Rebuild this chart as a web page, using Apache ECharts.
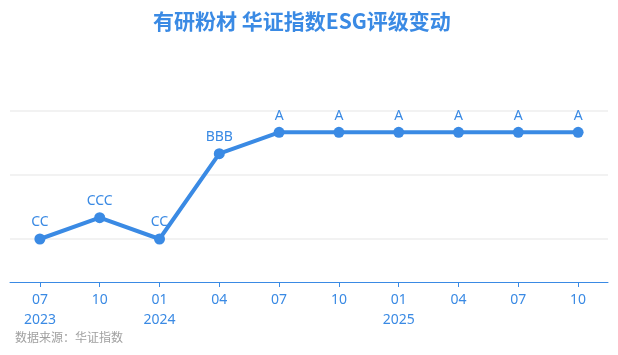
<!DOCTYPE html>
<html>
<head>
<meta charset="utf-8">
<script src="https://cdn.jsdelivr.net/npm/echarts@6/dist/echarts.min.js"></script>
<style>
html,body{margin:0;padding:0;background:#fff;}
#c{width:618px;height:355px;}
</style>
</head>
<body>
<div id="c"></div>
<script>
// Data
const categories = ['07\n2023', '10', '01\n2024', '04', '07', '10', '01\n2025', '04', '07', '10'];
const ratingsSeries = ['CC', 'CCC', 'CC', 'BBB', 'A', 'A', 'A', 'A', 'A', 'A'];
// rating scale (value = position in this list)
const ratingScale = ['', 'C', 'CC', 'CCC', 'B', 'BB', 'BBB', 'A', 'AA', 'AAA'];
const titleText = '有研粉材 华证指数ESG评级变动';
const sourceText = '数据来源：华证指数';

const values = ratingsSeries.map(r => ratingScale.indexOf(r));
const blue = '#3a8ae4';
const chart = echarts.init(document.getElementById('c'), null, {renderer: 'canvas'});
chart.setOption({
  backgroundColor: '#fff',
  animation: false,
  title: {
    text: titleText,
    left: 148,
    top: 6,
    textStyle: {color: blue, fontSize: 21, fontWeight: 'bold', fontFamily: '"Noto Sans CJK SC", sans-serif'}
  },
  graphic: [{
    type: 'text', left: 15, top: 331,
    style: {text: sourceText, fill: '#a0a0a0', fontSize: 12, fontFamily: '"Noto Sans CJK SC", sans-serif'}
  }],
  grid: {left: 10, right: 10, top: 111, bottom: 52, containLabel: false},
  xAxis: {
    type: 'category',
    data: categories,
    boundaryGap: true,
    offset: -21,
    axisLine: {onZero: false, lineStyle: {color: blue, width: 1}},
    axisTick: {show: true, alignWithLabel: true, length: 5, lineStyle: {color: blue, width: 1}},
    axisLabel: {color: blue, fontSize: 14, lineHeight: 20, margin: 8, fontFamily: '"Noto Sans", sans-serif', interval: 0}
  },
  yAxis: {
    type: 'value',
    min: -1, max: 8, interval: 3,
    axisLabel: {show: false},
    axisLine: {show: false},
    axisTick: {show: false},
    splitLine: {show: true, showMinLine: false, lineStyle: {color: '#f2f2f2', width: 2}}
  },
  series: [{
    type: 'line',
    data: values,
    symbol: 'circle',
    symbolSize: 11,
    lineStyle: {color: blue, width: 4},
    itemStyle: {color: blue},
    label: {
      show: true, position: 'top', distance: 4,
      color: blue, fontSize: 14, fontFamily: '"Noto Sans", sans-serif',
      formatter: p => ratingsSeries[p.dataIndex]
    }
  }]
});
</script>
</body>
</html>
